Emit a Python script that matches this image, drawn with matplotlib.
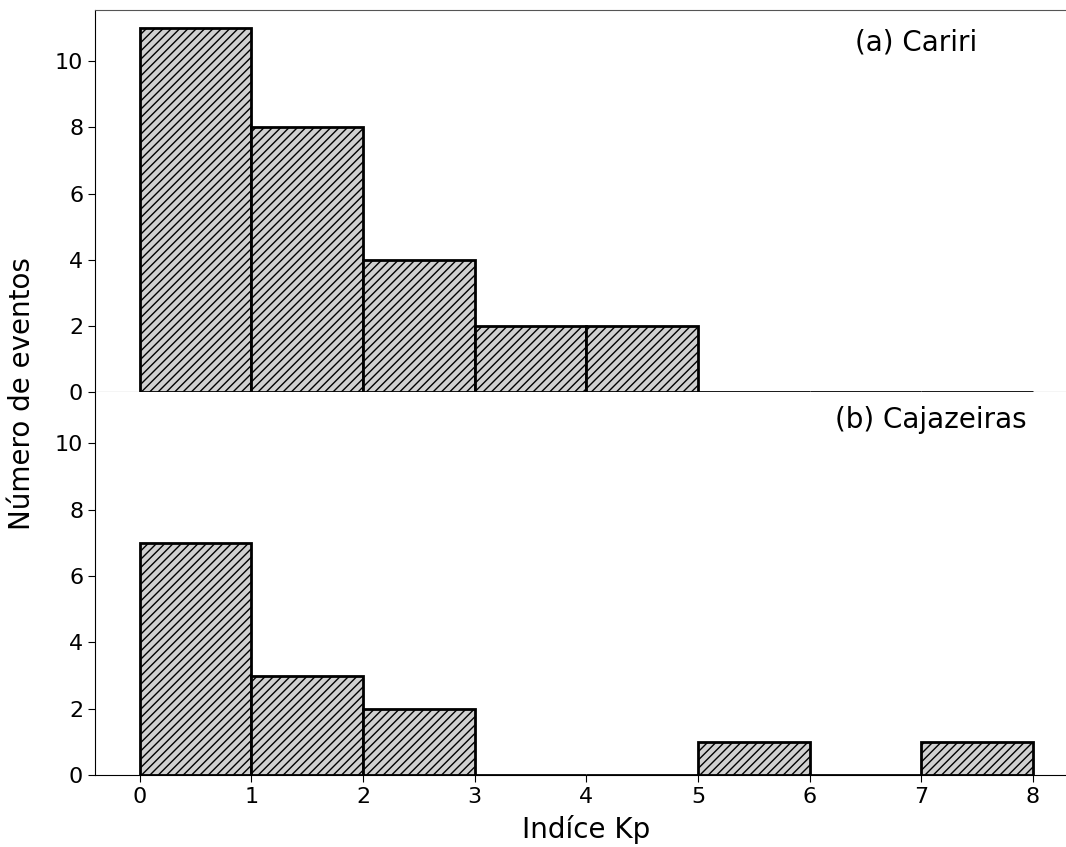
import matplotlib
matplotlib.use("Agg")
import matplotlib.pyplot as plt
import numpy as np

plt.rcParams['hatch.linewidth'] = 1.0

bin_edges = [0, 1, 2, 3, 4, 5, 6, 7, 8]
cariri_counts = [11, 8, 4, 2, 2, 0, 0, 0]
cajazeiras_counts = [7, 3, 2, 0, 0, 1, 0, 1]
panel_titles = ["(a) Cariri", "(b) Cajazeiras"]
xlabel = "Indíce Kp"
ylabel = "Número de eventos"

fig = plt.figure(figsize=(10.66, 8.47), dpi=100)
left, right = 0.0891, 1.011
ax1 = fig.add_axes([left, 0.5372, right - left, 0.9882 - 0.5372])
ax2 = fig.add_axes([left, 0.0850, right - left, 0.5372 - 0.0850], sharex=ax1, sharey=ax1)

for ax, counts, title, tx, ty in [(ax1, cariri_counts, panel_titles[0], 6.95, 10.57),
                                  (ax2, cajazeiras_counts, panel_titles[1], 7.08, 10.72)]:
    ax.hist(bin_edges[:-1], bins=bin_edges, weights=counts,
            facecolor='#d0d0d0', edgecolor='black', linewidth=2, hatch='////')
    ax.text(tx, ty, title, ha='center', va='center', fontsize=20)
    ax.spines['right'].set_visible(False)
    ax.tick_params(labelsize=16, length=5)

ax2.spines['top'].set_visible(False)
ax1.spines['top'].set_color('#555555')
ax1.spines['bottom'].set_color('#555555')
ax1.tick_params(axis='x', labelbottom=False, bottom=False)
ax1.set_xlim(-0.4, 8.4)
ax1.set_ylim(0, 11.55)
ax1.set_yticks([0, 2, 4, 6, 8, 10])
ax2.set_xticks(range(0, 9))
ax2.set_xlabel(xlabel, fontsize=20, labelpad=6)
fig.text(0.021, 0.535, ylabel, rotation=90, ha='center', va='center', fontsize=20)

fig.savefig("out.png", dpi=100)
